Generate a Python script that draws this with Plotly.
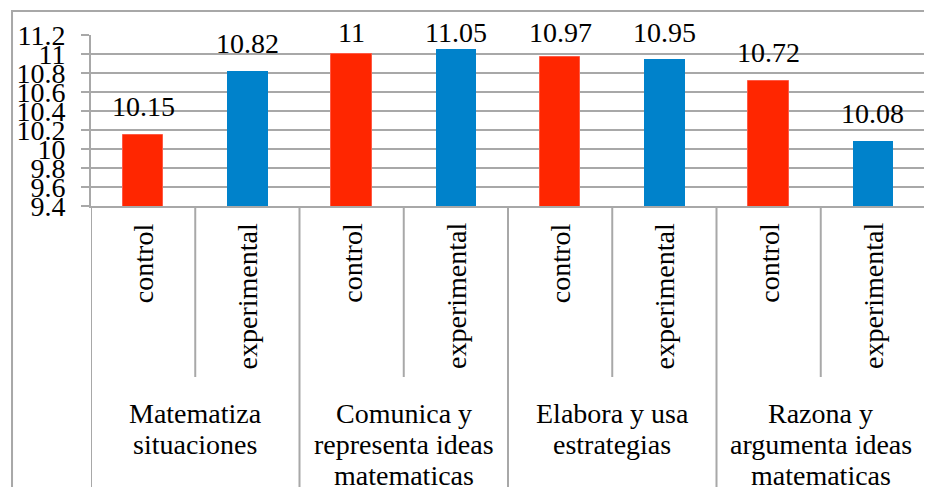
import plotly.graph_objects as go

# ---- data ----
group_lines = [
    ["Matematiza", "situaciones"],
    ["Comunica y", "representa ideas", "matematicas"],
    ["Elabora y usa", "estrategias"],
    ["Razona y", "argumenta ideas", "matematicas"],
]
sub_labels = ["control", "experimental"]
control_vals = [10.15, 11, 10.97, 10.72]
experimental_vals = [10.82, 11.05, 10.95, 10.08]
y_ticks = [9.4, 9.6, 9.8, 10, 10.2, 10.4, 10.6, 10.8, 11, 11.2]
y_tick_text = ["9.4", "9.6", "9.8", "10", "10.2", "10.4", "10.6", "10.8", "11", "11.2"]

# ---- styling ----
FONT = "Liberation Serif"
FS = 28
RED = "#FF2600"
BLUE = "#0082CB"
GRID = "#A8A8A8"

n_groups = len(group_lines)
x_control = [2 * g for g in range(n_groups)]
x_exp = [2 * g + 1 for g in range(n_groups)]

fig = go.Figure()
fig.add_trace(go.Bar(x=x_control, y=control_vals, width=0.39, marker_color=RED,
                     marker_line=dict(color="#FF5A45", width=1), name="control"))
fig.add_trace(go.Bar(x=x_exp, y=experimental_vals, width=0.39, marker_color=BLUE,
                     marker_line=dict(width=0), name="experimental"))

ann = []
# data labels
CAP = 10.93
for xs, vals in ((x_control, control_vals), (x_exp, experimental_vals)):
    for x, v in zip(xs, vals):
        ann.append(dict(x=x, y=min(v, CAP), xref="x", yref="y", text=f"{v:g}",
                        showarrow=False, yanchor="middle", yshift=28,
                        font=dict(family=FONT, size=FS, color="black")))
# sub-category labels (rotated)
for i in range(2 * n_groups):
    ann.append(dict(x=i, y=0, xref="x", yref="paper", text=sub_labels[i % 2],
                    showarrow=False, textangle=-90, yanchor="top", xanchor="center",
                    yshift=-15, font=dict(family=FONT, size=FS, color="black")))
# group labels (line by line)
for g, lines in enumerate(group_lines):
    for k, line in enumerate(lines):
        ann.append(dict(x=2 * g + 0.5, y=0, xref="x", yref="paper", text=line,
                        showarrow=False, yanchor="middle", xanchor="center",
                        yshift=-207 - 31 * k,
                        font=dict(family=FONT, size=FS, color="black")))

shapes = []
# separators between sub-categories
for g in range(n_groups):
    shapes.append(dict(type="line", xref="x", yref="paper", x0=2 * g + 0.5, x1=2 * g + 0.5,
                       y0=0, y1=-1.0, line=dict(color=GRID, width=2)))
# separators between groups
for g in range(n_groups + 1):
    shapes.append(dict(type="line", xref="x", yref="paper", x0=2 * g - 0.5, x1=2 * g - 0.5,
                       y0=0, y1=-1.8, line=dict(color=GRID, width=2)))
# outer chart border
shapes.append(dict(type="rect", xref="paper", yref="paper", x0=-0.0947, x1=1.02,
                   y0=-1.9, y1=1.140, line=dict(color=GRID, width=2), layer="below"))

fig.update_layout(
    width=924, height=479,
    margin=dict(l=83, r=7, t=27, b=281),
    paper_bgcolor="white", plot_bgcolor="white",
    showlegend=False, bargap=0,
    annotations=ann, shapes=shapes,
    xaxis=dict(range=[-0.5, 2 * n_groups - 0.5], showticklabels=False, showgrid=False,
               zeroline=False, showline=True, linecolor=GRID, linewidth=2, ticks=""),
    yaxis=dict(range=[9.4, 11.2], tickmode="array", tickvals=y_ticks, ticktext=y_tick_text,
               showgrid=True, gridcolor=GRID, gridwidth=2, zeroline=False,
               showline=True, linecolor=GRID, linewidth=2,
               ticks="outside", ticklen=8, tickcolor=GRID, tickwidth=2,
               ticklabelstandoff=10,
               tickfont=dict(family=FONT, size=FS, color="black")),
)

fig.write_html("out.html")
